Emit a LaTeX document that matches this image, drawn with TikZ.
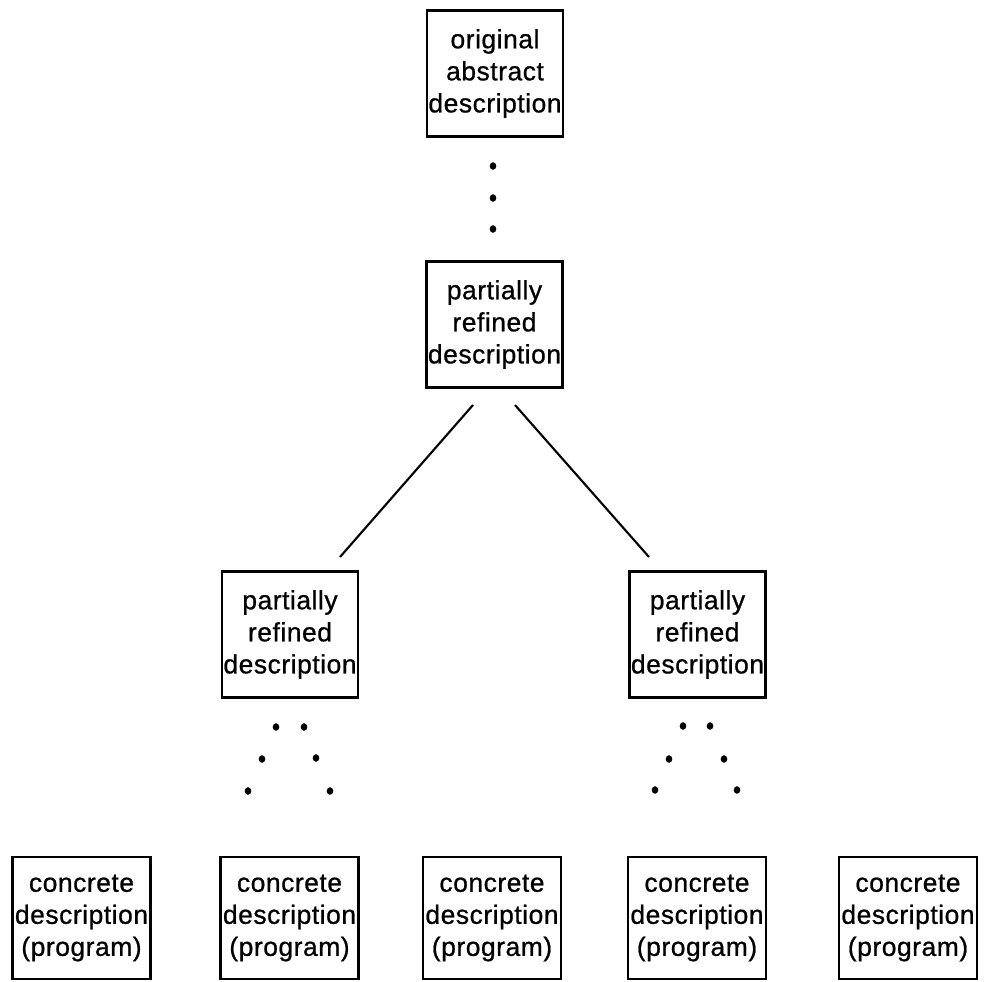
\documentclass[tikz,border=0pt]{standalone}
\usepackage{fontspec}
\setmainfont{Liberation Sans}
\newfontfamily\boxfont[FakeBold=0.8,LetterSpace=2]{Liberation Sans}
\begin{document}
\begin{tikzpicture}[x=0.025cm,y=-0.025cm,
  descbox/.style={draw, line width=1.8pt, align=center, inner sep=0pt,
    font=\boxfont\fontsize{18.8}{22.8}\selectfont},
  wide/.style={minimum width=3.4cm, minimum height=3.15cm},
  leafbox/.style={minimum width=3.45cm, minimum height=3.05cm},
  link/.style={line width=1.5pt},
  dotmark/.style={fill=black}
]
\useasboundingbox (0,0) rectangle (984,981);

% levels of the refinement tree
\node[descbox, wide] (orig) at (495,73.5) {original\\abstract\\description};
\node[descbox, wide] (mid) at (494.5,324.5) {partially\\refined\\description};
\node[descbox, wide] (left) at (290,634.5) {partially\\refined\\description};
\node[descbox, wide] (right) at (697.5,634.5) {partially\\refined\\description};

\node[descbox, leafbox] (c1) at (81.5,918) {concrete\\description\\(program)};
\node[descbox, leafbox] (c2) at (289.5,918) {concrete\\description\\(program)};
\node[descbox, leafbox] (c3) at (492,918) {concrete\\description\\(program)};
\node[descbox, leafbox] (c4) at (697,918) {concrete\\description\\(program)};
\node[descbox, leafbox] (c5) at (908,918) {concrete\\description\\(program)};

% branch lines (free-standing between the boxes)
\coordinate (bl0) at (473,405);
\coordinate (bl1) at (340,557);
\coordinate (br0) at (515,405);
\coordinate (br1) at (649,557);
\draw[link] (bl0) -- (bl1);
\draw[link] (br0) -- (br1);

% vertical ellipsis below the original description
\foreach \y in {166,198,229} \fill[dotmark] (493,\y) ellipse (3.3 and 3.8);

% diverging ellipses below the partially refined descriptions
\foreach \p in {(276,727),(304,727),(262,759),(316,758),(248,791),(330,791)}
  \fill[dotmark] \p ellipse (3.3 and 3.8);
\foreach \p in {(683,726),(710,726),(669,759),(724,759),(655,790),(737,790)}
  \fill[dotmark] \p ellipse (3.3 and 3.8);
\end{tikzpicture}
\end{document}
